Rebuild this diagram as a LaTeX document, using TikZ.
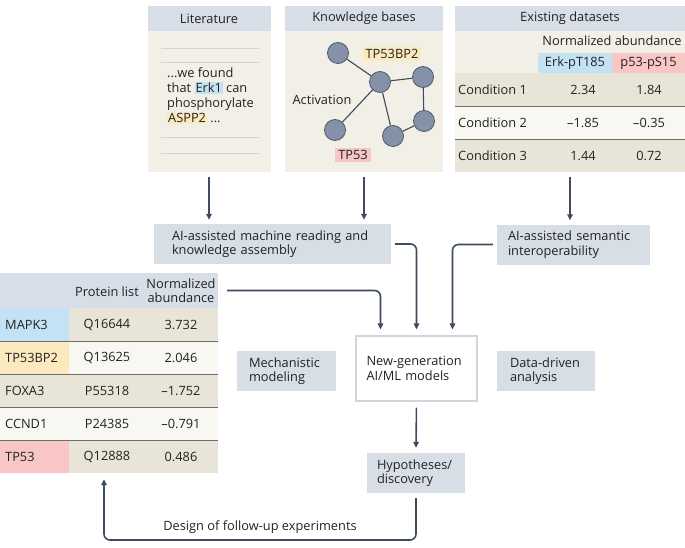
\documentclass[tikz,border=0pt]{standalone}
\usepackage{fontspec}
\setmainfont{Open Sans}
\usetikzlibrary{arrows.meta}

\definecolor{ink}{HTML}{222222}
\definecolor{hdrblue}{HTML}{D7DEE7}
\definecolor{boxgray}{HTML}{D8DEE6}
\definecolor{beige}{HTML}{F2F0E6}
\definecolor{rowdk}{HTML}{E8E5D8}
\definecolor{rowlt}{HTML}{F8F7F2}
\definecolor{hlblue}{HTML}{C3E2F4}
\definecolor{hlyel}{HTML}{FCE9BD}
\definecolor{hlpink}{HTML}{F7C6C5}
\definecolor{arrowc}{HTML}{3E4A5D}
\definecolor{nodefill}{HTML}{8491A9}
\definecolor{nodeedge}{HTML}{4D596E}
\definecolor{sepgray}{HTML}{6E6E6E}
\definecolor{rulegray}{HTML}{D6D3C6}
\definecolor{aiedge}{HTML}{D0D6DE}

\setlength{\fboxsep}{1pt}

\begin{document}
\begin{tikzpicture}[
  x=1pt, y=-1pt,
  font=\fontsize{12.8}{14.5}\selectfont,
  every node/.style={inner sep=0pt, text=ink},
  hdr/.style={fill=hdrblue, minimum height=25pt},
  panel/.style={fill=beige},
  box/.style={fill=boxgray, align=left, minimum height=40pt},
  cell/.style={minimum height=33pt},
  sep/.style={draw=sepgray, line width=0.7pt},
  rulel/.style={draw=rulegray, line width=0.8pt},
  prot/.style={circle, fill=nodefill, draw=nodeedge, line width=0.8pt, minimum size=21pt},
  link/.style={draw=arrowc, line width=1.1pt},
  tag/.style={inner xsep=3pt, inner ysep=2.5pt},
  flow/.style={-{Triangle[length=6pt, width=5.5pt]}, line width=1.6pt, draw=arrowc},
]
\useasboundingbox (0,0) rectangle (685,548);

% ===== LITERATURE =====
\node[panel, minimum width=123pt, minimum height=166pt] (lit) at (209,89) {};
\node[hdr, minimum width=123pt] (lithdr) at (209,18.5) {Literature};
\draw[rulel] (161,48) -- (259,48);
\draw[rulel] (161,62) -- (259,62);
\draw[rulel] (161,137) -- (259,137);
\draw[rulel] (161,153) -- (259,153);
\node[align=left, anchor=north west, font=\fontsize{12.8}{15}\selectfont] (littxt) at (167,68) {%
  ...we found\\that \colorbox{hlblue}{Erk1} can\\phosphorylate\\\colorbox{hlyel}{ASPP2} ...};

% ===== KNOWLEDGE BASES =====
\node[panel, minimum width=158pt, minimum height=166pt] (kb) at (364,89) {};
\node[hdr, minimum width=158pt] (kbhdr) at (364,18.5) {Knowledge bases};
\node[prot] (n1) at (338,53) {};
\node[prot] (n2) at (380,82) {};
\node[prot] (n3) at (423,77) {};
\node[prot] (n4) at (424,121) {};
\node[prot] (n5) at (393,136) {};
\node[prot] (n6) at (335,130) {};
\draw[link] (n1) -- (n2);
\draw[link] (n2) -- (n3);
\draw[link] (n3) -- (n4);
\draw[link] (n4) -- (n5);
\draw[link] (n5) -- (n2);
\draw[link] (n2) -- (n6);
\node[tag, fill=hlyel] (tp53bp2) at (392,54) {TP53BP2};
\node (activ) at (322,100) {Activation};
\node[tag, fill=hlpink] (tp53) at (353,155) {TP53};

% ===== EXISTING DATASETS =====
\node[panel, minimum width=230pt, minimum height=166pt] (ds) at (570,89) {};
\node[hdr, minimum width=230pt] (dshdr) at (570,18.5) {Existing datasets};
\node (normab) at (612,41) {Normalized abundance};
\node[fill=hlblue, minimum width=74pt, minimum height=20pt] (erk) at (575,63) {Erk-pT185};
\node[fill=hlpink, minimum width=73pt, minimum height=20pt] (p53) at (648.5,63) {p53-pS15};
\node[cell, fill=rowdk, minimum width=230pt] (d1) at (570,89.5) {};
\node[cell, fill=rowlt, minimum width=230pt] (d2) at (570,122.5) {};
\node[cell, fill=rowdk, minimum width=230pt] (d3) at (570,155.5) {};
\draw[sep] (d1.south west) -- (d1.south east);
\draw[sep] (d2.south west) -- (d2.south east);
\node[anchor=west] (c1) at (458,89.5) {Condition 1};
\node (c1a) at (583,89.5) {2.34};
\node (c1b) at (649,89.5) {1.84};
\node[anchor=west] (c2) at (458,122.5) {Condition 2};
\node (c2a) at (583,122.5) {–1.85};
\node (c2b) at (649,122.5) {–0.35};
\node[anchor=west] (c3) at (458,155.5) {Condition 3};
\node (c3a) at (583,155.5) {1.44};
\node (c3b) at (649,155.5) {0.72};

% ===== AI-ASSISTED STEPS =====
\node[box, minimum width=237pt, inner xsep=18pt, text width=201pt] (mread) at (272.5,244) {%
  AI-assisted machine reading and\\knowledge assembly};
\node[box, minimum width=153pt, inner xsep=11pt, text width=131pt] (sem) at (573.5,244.5) {%
  AI-assisted semantic\\interoperability};

% ===== MODELS =====
\node[draw=aiedge, fill=white, line width=1.2pt, align=left, minimum width=121pt, minimum height=65pt,
  inner xsep=10.5pt, text width=100pt] (ai) at (416.5,368.5) {New-generation\\AI/ML models};
\node[box, minimum width=99pt, inner xsep=12pt, text width=75pt] (mech) at (286.5,371) {Mechanistic\\modeling};
\node[box, minimum width=98pt, inner xsep=13pt, text width=72pt] (ddrv) at (546,371) {Data-driven\\analysis};
\node[box, minimum width=98pt, inner xsep=10pt, text width=78pt] (hyp) at (416,473) {Hypotheses/\\discovery};

% ===== PROTEIN TABLE =====
\node[fill=hdrblue, minimum width=218pt, minimum height=35pt] (phdr) at (109,290.5) {};
\node (plist) at (107,292) {Protein list};
\node[align=center, font=\fontsize{12.8}{14}\selectfont] (pnorm) at (181,291) {Normalized\\abundance};
\node[cell, fill=rowdk, minimum width=218pt] (r1) at (109,324.5) {};
\node[cell, fill=rowlt, minimum width=218pt] (r2) at (109,357.5) {};
\node[cell, fill=rowdk, minimum width=218pt] (r3) at (109,390.5) {};
\node[cell, fill=rowlt, minimum width=218pt] (r4) at (109,423.5) {};
\node[cell, fill=rowdk, minimum width=218pt] (r5) at (109,456.5) {};
\node[cell, fill=hlblue, minimum width=69pt] (k1) at (34.5,324.5) {};
\node[cell, fill=hlyel, minimum width=69pt] (k2) at (34.5,357.5) {};
\node[cell, fill=hlpink, minimum width=69pt] (k5) at (34.5,456.5) {};
\draw[sep] (r1.south west) -- (r1.south east);
\draw[sep] (r2.south west) -- (r2.south east);
\draw[sep] (r3.south west) -- (r3.south east);
\draw[sep] (r4.south west) -- (r4.south east);
\node[anchor=west] (g1) at (5,324.5) {MAPK3};
\node (u1) at (107,324.5) {Q16644};
\node (v1) at (181,324.5) {3.732};
\node[anchor=west] (g2) at (5,357.5) {TP53BP2};
\node (u2) at (107,357.5) {Q13625};
\node (v2) at (181,357.5) {2.046};
\node[anchor=west] (g3) at (5,390.5) {FOXA3};
\node (u3) at (107,390.5) {P55318};
\node (v3) at (181,390.5) {–1.752};
\node[anchor=west] (g4) at (5,423.5) {CCND1};
\node (u4) at (107,423.5) {P24385};
\node (v4) at (181,423.5) {–0.791};
\node[anchor=west] (g5) at (5,456.5) {TP53};
\node (u5) at (107,456.5) {Q12888};
\node (v5) at (181,456.5) {0.486};

% ===== ARROWS =====
\draw[flow, shorten <=5pt, shorten >=4pt] (lit.south) -- (lit.south |- mread.north);
\draw[flow, shorten <=5pt, shorten >=4pt] (kb.south) -- (kb.south |- mread.north);
\draw[flow, shorten <=5pt, shorten >=4pt] (ds.south) -- (ds.south |- sem.north);
\draw[flow, rounded corners=6pt, shorten <=9pt, shorten >=6pt] (phdr.east) -| ([xshift=-36pt]ai.north);
\draw[flow, rounded corners=6pt, shorten <=4pt, shorten >=6pt] (mread.east) -| (ai.north);
\draw[flow, rounded corners=6pt, shorten <=4pt, shorten >=6pt] (sem.west) -| ([xshift=36pt]ai.north);
\draw[flow, shorten <=6pt, shorten >=5pt] (ai.south) -- (hyp.north);
\coordinate (turn) at (104,540);
\draw[flow, rounded corners=6pt, shorten <=5pt, shorten >=6pt] (hyp.south) |- (turn) -- (turn |- r5.south);
\node (design) at (260,527) {Design of follow-up experiments};

\end{tikzpicture}
\end{document}
